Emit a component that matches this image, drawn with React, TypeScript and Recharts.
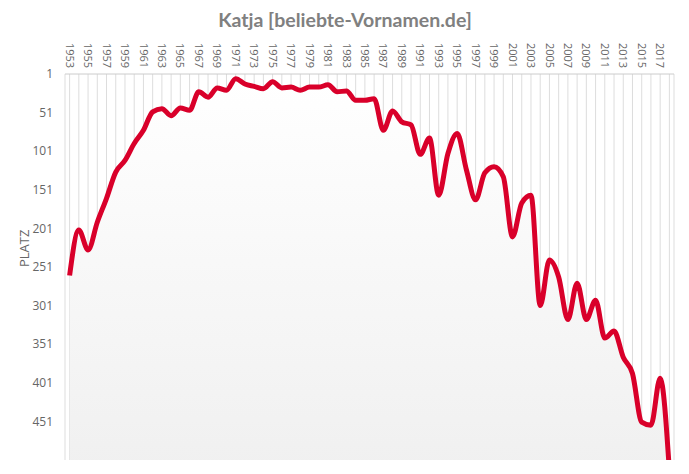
import { ComposedChart, Area, XAxis, YAxis, CartesianGrid, ReferenceLine } from 'recharts'

const years = [
  1953, 1954, 1955, 1956, 1957, 1958, 1959, 1960, 1961, 1962, 1963,
  1964, 1965, 1966, 1967, 1968, 1969, 1970, 1971, 1972, 1973, 1974,
  1975, 1976, 1977, 1978, 1979, 1980, 1981, 1982, 1983, 1984, 1985,
  1986, 1987, 1988, 1989, 1990, 1991, 1992, 1993, 1994, 1995, 1996,
  1997, 1998, 1999, 2000, 2001, 2002, 2003, 2004, 2005, 2006, 2007,
  2008, 2009, 2010, 2011, 2012, 2013, 2014, 2015, 2016, 2017, 2018,
]

const ranks = [
  262, 203, 229, 193, 162, 128, 113, 91, 74, 50, 46,
  55, 45, 48, 24, 31, 19, 22, 7, 14, 17, 20,
  11, 19, 18, 22, 18, 18, 15, 24, 23, 35, 35,
  33, 74, 49, 63, 67, 105, 84, 158, 104, 78, 125,
  164, 129, 121, 134, 212, 168, 158, 301, 242, 264, 319,
  272, 319, 294, 343, 334, 368, 389, 452, 456, 395, 515,
]

const yTicks = [1, 51, 101, 151, 201, 251, 301, 351, 401, 451]

const data = years.map((year, i) => ({ year, rank: ranks[i] }))

const YearTick = (props: any) => {
  const { x, payload } = props
  if (payload.value % 2 === 0) return null
  return (
    <text
      transform={`translate(${x}, 43) rotate(90)`}
      dy="0.35em"
      textAnchor="start"
      fontSize={11}
      fill="#666"
      fontFamily="'Open Sans', sans-serif"
    >
      {payload.value}
    </text>
  )
}

const RankTick = (props: any) => {
  const { y, payload } = props
  return (
    <text
      x={53}
      y={y}
      dy="0.35em"
      textAnchor="end"
      fontSize={12}
      fill="#666"
      fontFamily="'Open Sans', sans-serif"
    >
      {payload.value}
    </text>
  )
}

const App = () => {
  return (
    <div style={{ position: 'absolute', left: 0, top: 0, background: '#fff' }}>
      <svg width={689} height={40} style={{ position: 'absolute', left: 0, top: 0 }}>
        <text
          x={345}
          y={27}
          textAnchor="middle"
          fontSize={19.5}
          fontWeight="bold"
          fill="#808080"
          fontFamily="Lato, sans-serif"
        >
          Katja [beliebte-Vornamen.de]
        </text>
      </svg>
      <ComposedChart
        width={689}
        height={474}
        data={data}
        margin={{ top: 34, right: 15, bottom: 14, left: 0 }}
      >
        <defs>
          <linearGradient id="bgFill" x1="0" y1="0" x2="0" y2="1">
            <stop offset="0%" stopColor="#ffffff" />
            <stop offset="100%" stopColor="#f0f0f0" />
          </linearGradient>
        </defs>
        <CartesianGrid horizontal={false} stroke="#dddddd" />
        <XAxis
          dataKey="year"
          type="number"
          orientation="top"
          domain={[1952.5, 2018.5]}
          ticks={years}
          interval={0}
          height={40}
          tick={<YearTick />}
          axisLine={false}
          tickLine={false}
        />
        <YAxis
          type="number"
          reversed
          domain={[1, 501]}
          ticks={yTicks}
          interval={0}
          allowDataOverflow
          width={65}
          tick={<RankTick />}
          axisLine={false}
          tickLine={false}
          label={{
            value: 'PLATZ',
            angle: -90,
            position: 'insideLeft',
            offset: 24,
            fill: '#666',
            fontSize: 13,
            fontFamily: "'Open Sans', sans-serif",
          }}
        />
        <ReferenceLine y={1} stroke="#cccccc" />
        <Area
          type="monotone"
          dataKey="rank"
          baseValue={501}
          stroke="#d9002a"
          strokeWidth={5}
          fill="url(#bgFill)"
          fillOpacity={1}
          dot={false}
          activeDot={false}
          isAnimationActive={false}
        />
      </ComposedChart>
    </div>
  )
}

export default App
